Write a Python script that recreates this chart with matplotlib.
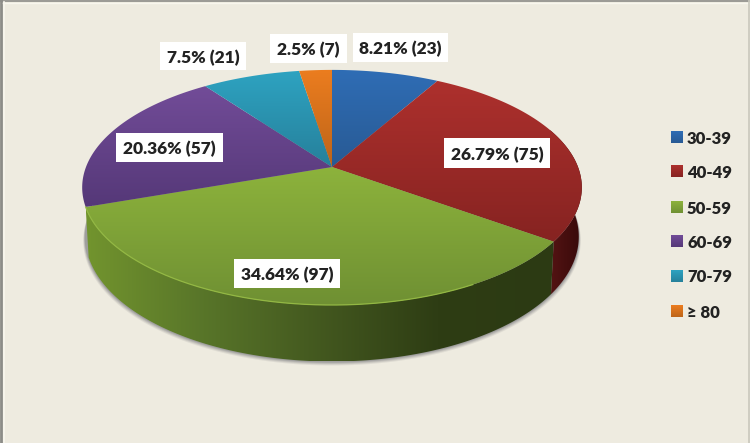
import numpy as np
import matplotlib
matplotlib.use('Agg')
import matplotlib.pyplot as plt
from matplotlib.colors import LinearSegmentedColormap
from matplotlib.patches import Polygon, Rectangle

# Age groups and patient counts
age_groups = ['30-39', '40-49', '50-59', '60-69', '70-79', '≥ 80']
counts = [23, 75, 97, 57, 21, 7]

# Gradient ends for each slice (upper colour, lower colour)
top_colors = ['#2f6db5', '#ad302d', '#8db33c', '#724c98', '#2ea3c1', '#ec7d1f']
low_colors = ['#285a94', '#862321', '#6f9033', '#553878', '#26809b', '#bd6419']
wall_colors = {1: ['#561414', '#360909'],
               2: ['#72942e', '#587529', '#43581f', '#2e3d14', '#2c3a13']}

legend_y = [137, 171, 207, 241, 276, 311]
label_boxes = [(353, 448, 33, 62), (444, 550, 138, 168), (234, 340, 259, 288),
               (116, 223, 133, 162), (160, 246, 42, 70), (270, 347, 34, 63)]

BG = '#eeebe0'
CX, CY = 332, 167
RX, RY, K = 246, 114, 0.174
CX_B, CY_B = 332, 215
RX_B, RY_B = 243, 121

plt.rcParams['font.family'] = ['Lato', 'DejaVu Sans']

fig = plt.figure(figsize=(7.5, 4.43), dpi=100, facecolor=BG)
ax = fig.add_axes([0, 0, 1, 1])
ax.axis('off')


def rim(a0, a1, cx, cy, rx, ry):
    # angles are measured clockwise from the top of the pie, tilted circle
    a = np.radians(np.linspace(a0, a1, max(int(abs(a1 - a0) * 2), 2)))
    u, v = np.sin(a), np.cos(a)
    w = 1 + K * v
    return np.column_stack([cx + rx * u / w, cy - ry * v / w])


def fill_gradient(points, colors, horizontal=False):
    cmap = LinearSegmentedColormap.from_list('g', colors)
    x0, y0 = points.min(axis=0)
    x1, y1 = points.max(axis=0)
    grad = np.linspace(0, 1, 256)
    grad = grad.reshape(1, -1) if horizontal else grad.reshape(-1, 1)
    im = ax.imshow(grad, cmap=cmap, extent=[x0, x1, y1, y0], aspect='auto', zorder=2)
    im.set_clip_path(Polygon(points, closed=True, transform=ax.transData))


# soft shadow below the pie
for off, alpha in [(4, 0.10), (3, 0.14), (2, 0.18), (1, 0.22)]:
    outline = rim(0, 360, CX_B, CY_B + off, RX_B + off * 0.5, RY_B)
    ax.add_patch(Polygon(outline, closed=True, color='#55555f', alpha=alpha, lw=0, zorder=1))

fractions = np.array(counts) / sum(counts)
edges = np.concatenate([[0], np.cumsum(fractions) * 360])

# side wall, only the red and green slices show one
for i in wall_colors:
    a0, a1 = edges[i], edges[i + 1]
    lo = max(a0, 70)
    top = rim(lo, a1, CX, CY, RX, RY)
    bottom = rim(a1, lo, CX_B, CY_B, RX_B, RY_B)
    fill_gradient(np.vstack([top, bottom]), wall_colors[i], horizontal=True)

# top faces
for i in range(len(counts)):
    pts = np.vstack([[[CX, CY]], rim(edges[i], edges[i + 1], CX, CY, RX, RY)])
    fill_gradient(pts, [top_colors[i], low_colors[i]])

# light edge along the front of the green slice
edge = rim(edges[2] + 25, edges[3], CX, CY, RX, RY)
ax.plot(edge[:, 0], edge[:, 1], color='#93b843', lw=0.9, zorder=3)

# value labels
total = sum(counts)
for v, (x0, x1, y0, y1) in zip(counts, label_boxes):
    ax.add_patch(Rectangle((x0, y0), x1 - x0, y1 - y0, fc='white', ec='none', zorder=4))
    ax.text((x0 + x1) / 2, (y0 + y1) / 2, f'{round(100 * v / total, 2)}% ({v})',
            ha='center', va='center_baseline', fontsize=12.5, fontweight='heavy',
            color='#222222', zorder=5)

# legend
for name, y, c1, c2 in zip(age_groups, legend_y, top_colors, low_colors):
    square = np.array([[671, y - 6], [683, y - 6], [683, y + 6], [671, y + 6]])
    fill_gradient(square, [c1, c2])
    ax.text(687, y, name, ha='left', va='center_baseline', fontsize=12,
            fontweight='heavy', color='#222222', zorder=5)

# frame: grey on the top and left, faint on the right, thin light line inside
ax.plot([1.2, 1.2], [0, 443], color='#8c8c88', lw=2.0, zorder=6)
ax.plot([0, 750], [0.7, 0.7], color='#8c8c88', lw=1.2, zorder=6)
ax.plot([3.5, 3.5], [2, 443], color='#f8f6ee', lw=1.2, zorder=6)
ax.plot([3, 750], [2.5, 2.5], color='#f8f6ee', lw=1.0, zorder=6)
ax.plot([748.5, 748.5], [0, 443], color='#c9c8bd', lw=1.2, zorder=6)

ax.set_xlim(0, 750)
ax.set_ylim(443, 0)

fig.savefig('out.png', dpi=100, facecolor=BG)
